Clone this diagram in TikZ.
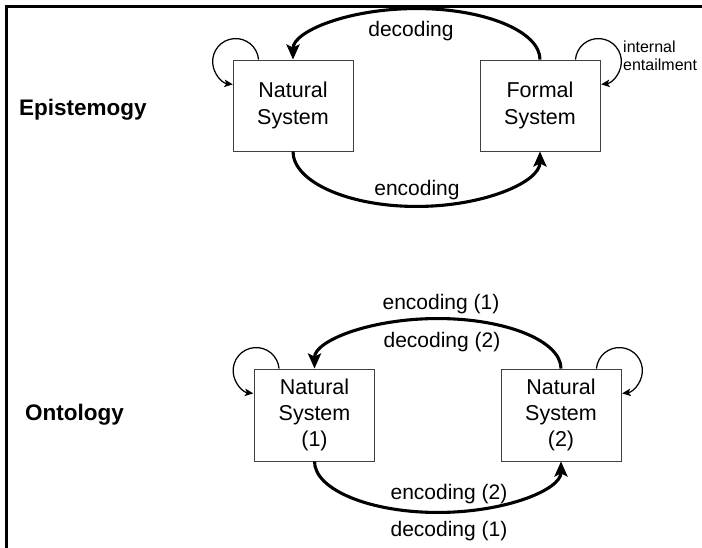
\documentclass[tikz,border=0pt]{standalone}
\usepackage{fontspec}
\setmainfont{Liberation Sans}
\usetikzlibrary{arrows.meta}
\begin{document}
\begin{tikzpicture}[x=1pt,y=-1pt,
  sysbox/.style={draw=black!75,line width=0.9pt,minimum width=120pt,inner sep=0pt,align=center,font=\fontsize{21.5}{27}\selectfont},
  lbl/.style={font=\fontsize{21}{25}\selectfont,inner sep=0pt},
  head/.style={font=\bfseries\fontsize{22.5}{27}\selectfont,inner sep=0pt,anchor=base west},
  bigarc/.style={line width=3.1pt,-{Stealth[length=15pt,width=13pt,inset=3pt]}},
  selfloop/.style={line width=1.25pt,-{Stealth[length=8.5pt,width=7.5pt,inset=2pt]}},
  frame/.style={line width=2.8pt}]
\useasboundingbox (0,0) rectangle (702,548);
\draw[frame] (702,6.5) -- (6.5,6.5) -- (6.5,548);

% headings
\node[head] (epi) at (19,116) {Epistemogy};
\node[head] (onto) at (25,420.5) {Ontology};

% systems
\node[sysbox,minimum height=91pt] (ns) at (293,105.5) {Natural\\System};
\node[sysbox,minimum height=91pt] (fs) at (540,105.5) {Formal\\System};
\node[sysbox,minimum height=92pt,font=\fontsize{21.5}{26}\selectfont] (n1) at (314.5,415) {Natural\\System\\(1)};
\node[sysbox,minimum height=92pt,font=\fontsize{21.5}{26}\selectfont] (n2) at (561,415) {Natural\\System\\(2)};

% big arcs
\draw[bigarc] (fs.north) arc[start angle=0,end angle=180,x radius=123.5pt,y radius=51pt];
\draw[bigarc] (ns.south) arc[start angle=180,end angle=360,x radius=123.5pt,y radius=55pt];
\draw[bigarc] (n2.north) arc[start angle=0,end angle=180,x radius=123.25pt,y radius=50pt];
\draw[bigarc] (n1.south) arc[start angle=180,end angle=360,x radius=123.25pt,y radius=51pt];

% self loops
\draw[selfloop] ([xshift=26pt]ns.north west) arc[start angle=5,end angle=263,radius=23pt];
\draw[selfloop] ([xshift=-25pt]fs.north east) arc[start angle=175,end angle=-83,radius=23pt];
\draw[selfloop] ([xshift=25pt]n1.north west) arc[start angle=5,end angle=263,radius=23pt];
\draw[selfloop] ([xshift=-25pt]n2.north east) arc[start angle=175,end angle=-83,radius=23pt];

% labels
\node[lbl] (dec) at (411,31) {decoding};
\node[lbl] (enc) at (417,190) {encoding};
\node[lbl] (e1) at (441,304) {encoding (1)};
\node[lbl] (d2) at (442,342) {decoding (2)};
\node[lbl] (e2) at (449,494) {encoding (2)};
\node[lbl] (d1) at (449,531) {decoding (1)};
\node[font=\fontsize{16}{18}\selectfont,align=left,anchor=north west,inner sep=0pt] (ie) at (623,40.5) {internal\\entailment};
\end{tikzpicture}
\end{document}
